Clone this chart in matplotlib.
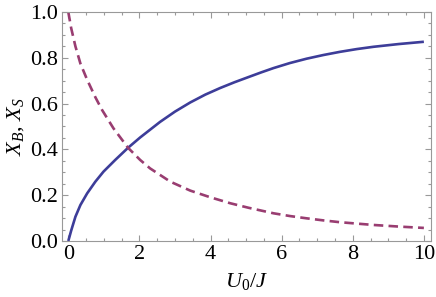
import matplotlib
matplotlib.use("Agg")
import matplotlib.pyplot as plt
from matplotlib.ticker import MultipleLocator

plt.rcParams['font.family'] = ['Liberation Serif', 'DejaVu Serif']
plt.rcParams['mathtext.fontset'] = 'custom'
plt.rcParams['mathtext.rm'] = 'Liberation Serif'
plt.rcParams['mathtext.it'] = 'Liberation Serif:italic'

xb_x = [0, 0.08, 0.2, 0.34, 0.53, 0.76, 0.99, 1.32, 1.68, 2.02, 2.58, 3.0, 3.43,
        3.85, 4.27, 4.67, 5.07, 5.42, 5.77, 6.23, 6.70, 7.17, 7.64, 8.11, 8.58,
        9.29, 10.0]
xb_y = [0, 0.045, 0.106, 0.157, 0.208, 0.259, 0.303, 0.354, 0.407, 0.452, 0.52,
        0.565, 0.605, 0.639, 0.668, 0.693, 0.716, 0.736, 0.755, 0.777, 0.796,
        0.812, 0.826, 0.838, 0.848, 0.860, 0.870]

xs_x = [0, 0.08, 0.2, 0.34, 0.53, 0.76, 0.95, 1.27, 1.68, 2.02, 2.30, 2.87,
        3.43, 3.99, 4.55, 5.07, 5.77, 6.23, 6.70, 7.17, 7.64, 8.11, 8.58, 9.29,
        10.0]
xs_y = [1.0, 0.93, 0.85, 0.775, 0.704, 0.628, 0.572, 0.492, 0.407, 0.354, 0.317,
        0.259, 0.220, 0.191, 0.165, 0.145, 0.121, 0.109, 0.099, 0.090, 0.082,
        0.076, 0.070, 0.063, 0.057]

x_ticks = [0, 2, 4, 6, 8, 10]
y_ticks = [0.0, 0.2, 0.4, 0.6, 0.8, 1.0]

fig = plt.figure(figsize=(4.36, 2.97), dpi=100)
ax = fig.add_axes([0.142, 0.1886, 0.8465, 0.771])

ax.plot(xb_x, xb_y, color='#3d3d99', lw=1.9, solid_capstyle='butt')
ax.plot(xs_x, xs_y, color='#993d71', lw=1.9, dashes=(3.6, 2.0))

ax.set_xlim(-0.18, 10.2)
ax.set_ylim(0, 1.0)
ax.set_xticks(x_ticks)
ax.set_yticks(y_ticks)
ax.set_xticklabels([str(v) for v in x_ticks])
ax.set_yticklabels([f"{v:.1f}" for v in y_ticks])
ax.xaxis.set_minor_locator(MultipleLocator(0.5))
ax.yaxis.set_minor_locator(MultipleLocator(0.05))

ax.tick_params(which='both', direction='in', top=True, right=True,
               color='#999999', width=0.8, labelsize=16, pad=3)
ax.tick_params(which='major', length=4.5)
ax.tick_params(which='minor', length=2.5)
for s in ax.spines.values():
    s.set_color('#999999')
    s.set_linewidth(0.8)

ax.set_xlabel(r'$U_0/J$', fontsize=16, labelpad=5)
ax.set_ylabel(r'$X_B$, $X_S$', fontsize=16, labelpad=3)

fig.savefig('out.png', dpi=100)
